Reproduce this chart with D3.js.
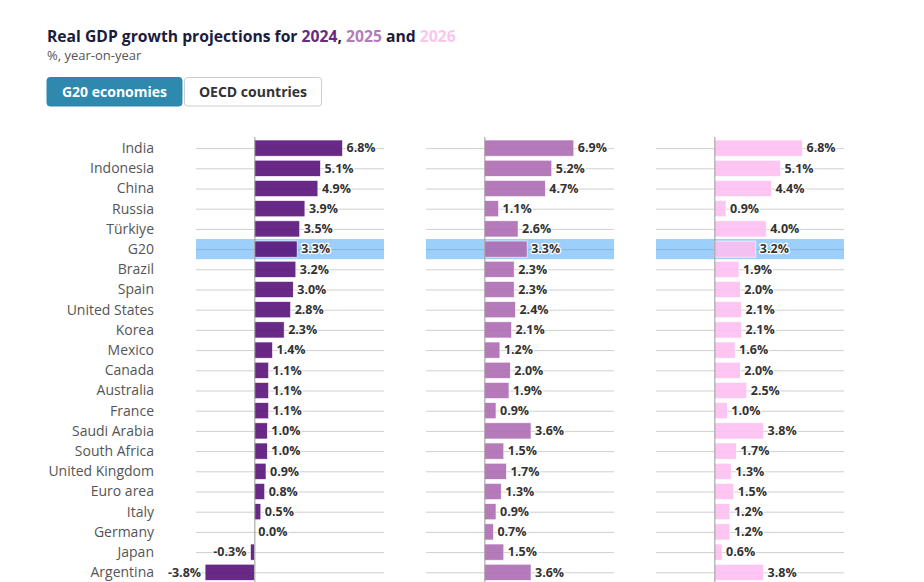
<!DOCTYPE html>
<html>
<head>
<meta charset="utf-8">
<script src="https://cdn.jsdelivr.net/npm/d3@7"></script>
<style>
  html, body { margin: 0; padding: 0; background: #fff; }
  svg { display: block; }
  text { font-family: "Open Sans", "Noto Sans", sans-serif; }
</style>
</head>
<body>
<svg id="chart" width="924" height="582"></svg>
<script>
const categories = ["India","Indonesia","China","Russia","Türkiye","G20","Brazil","Spain","United States","Korea","Mexico","Canada","Australia","France","Saudi Arabia","South Africa","United Kingdom","Euro area","Italy","Germany","Japan","Argentina"];
const years = ["2024","2025","2026"];
const values2024 = [6.8,5.1,4.9,3.9,3.5,3.3,3.2,3.0,2.8,2.3,1.4,1.1,1.1,1.1,1.0,1.0,0.9,0.8,0.5,0.0,-0.3,-3.8];
const values2025 = [6.9,5.2,4.7,1.1,2.6,3.3,2.3,2.3,2.4,2.1,1.2,2.0,1.9,0.9,3.6,1.5,1.7,1.3,0.9,0.7,1.5,3.6];
const values2026 = [6.8,5.1,4.4,0.9,4.0,3.2,1.9,2.0,2.1,2.1,1.6,2.0,2.5,1.0,3.8,1.7,1.3,1.5,1.2,1.2,0.6,3.8];
const highlight = "G20";
const buttons = ["G20 economies","OECD countries"];

const series = [values2024, values2025, values2026];
const colors = ["#59127a", "#ad6bb2", "#fdbfef"];
const titleColors = ["#6a2a82", "#b57aba", "#f9c6ee"];

const svg = d3.select("#chart");

// Title
const title = svg.append("text").attr("x", 47).attr("y", 41.5)
  .attr("font-size", 15.7).attr("font-weight", 700).attr("fill", "#1c1c3c");
title.append("tspan").text("Real GDP growth projections for ");
title.append("tspan").attr("fill", titleColors[0]).text(years[0]);
title.append("tspan").text(", ");
title.append("tspan").attr("fill", titleColors[1]).text(years[1]);
title.append("tspan").text(" and ");
title.append("tspan").attr("fill", titleColors[2]).text(years[2]);
svg.append("text").attr("x", 47).attr("y", 59.5).attr("font-size", 13)
  .attr("fill", "#555").text("%, year-on-year");

// Buttons
const btns = [{x: 47, w: 135, active: true}, {x: 184.5, w: 137, active: false}];
btns.forEach((b, i) => {
  svg.append("rect").attr("x", b.x).attr("y", 77.5).attr("width", b.w).attr("height", 28.5)
    .attr("rx", 3).attr("fill", b.active ? "#2f88ad" : "#fff")
    .attr("stroke", b.active ? "#2f88ad" : "#ccc").attr("stroke-width", 1);
  svg.append("text").attr("x", b.x + b.w / 2).attr("y", 96.8).attr("text-anchor", "middle")
    .attr("font-size", 14).attr("font-weight", 700)
    .attr("fill", b.active ? "#fff" : "#333").text(buttons[i]);
});

// Row scale
const y = d3.scaleBand().domain(categories).range([138, 138 + 22 * 20.2]).paddingInner(0.2).paddingOuter(0.1);
const step = y.step();

// Category labels
svg.append("g").selectAll("text").data(categories).join("text")
  .attr("x", 154).attr("y", d => y(d) + y.bandwidth() / 2)
  .attr("dy", "0.35em").attr("text-anchor", "end")
  .attr("font-size", 14).attr("fill", "#555").text(d => d);

const panelX = [196, 426, 656];
const panelW = 188;
const fmt = v => d3.format(".1f")(v).replace("\u2212", "-") + "%";

series.forEach((vals, si) => {
  const x = d3.scaleLinear().domain([-4.5, 10]).range([panelX[si], panelX[si] + panelW]);
  const g = svg.append("g");
  // gridlines
  g.selectAll("line.grid").data(categories).join("line")
    .attr("x1", x.range()[0]).attr("x2", x.range()[1])
    .attr("y1", d => y(d) + y.bandwidth() / 2 + 0.5).attr("y2", d => y(d) + y.bandwidth() / 2 + 0.5)
    .attr("stroke", "#cfcfcf").attr("stroke-width", 1);
  // highlight band
  g.append("rect").attr("x", x.range()[0]).attr("width", panelW)
    .attr("y", y(highlight) + y.bandwidth() / 2 - step / 2).attr("height", step)
    .attr("fill", "#9ccffa");
  g.append("line")
    .attr("x1", x.range()[0]).attr("x2", x.range()[1])
    .attr("y1", y(highlight) + y.bandwidth() / 2 + 0.5).attr("y2", y(highlight) + y.bandwidth() / 2 + 0.5)
    .attr("stroke", "#86b6e0").attr("stroke-width", 1);
  // bars
  g.selectAll("rect.bar").data(categories).join("rect")
    .attr("x", (d, i) => x(Math.min(0, vals[i])))
    .attr("width", (d, i) => Math.abs(x(vals[i]) - x(0)))
    .attr("y", d => y(d)).attr("height", y.bandwidth())
    .attr("fill", colors[si]).attr("fill-opacity", 0.9)
    .attr("stroke", "#fff").attr("stroke-width", 0.6);
  // zero line
  g.append("line").attr("x1", x(0) + 0.5).attr("x2", x(0) + 0.5)
    .attr("y1", 137).attr("y2", 582).attr("stroke", "#999").attr("stroke-width", 1);
  // value labels
  g.selectAll("text.val").data(categories).join("text")
    .attr("x", (d, i) => vals[i] < 0 ? x(vals[i]) - 4 : x(vals[i]) + 4)
    .attr("y", d => y(d) + y.bandwidth() / 2).attr("dy", "0.35em")
    .attr("text-anchor", (d, i) => vals[i] < 0 ? "end" : "start")
    .attr("font-size", 12.5).attr("font-weight", 700).attr("fill", "#333")
    .attr("stroke", "#fff").attr("stroke-width", 2.5).attr("paint-order", "stroke")
    .attr("stroke-linejoin", "round")
    .text((d, i) => fmt(vals[i]));
});
</script>
</body>
</html>
